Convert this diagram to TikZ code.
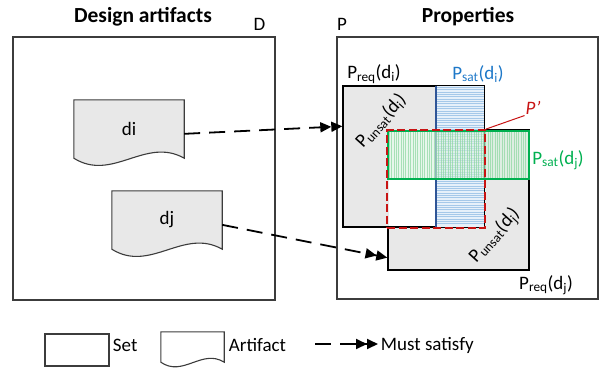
\documentclass[tikz,border=0pt]{standalone}
\usepackage{fontspec}
\setmainfont{Carlito}
\usetikzlibrary{arrows.meta,calc}

\definecolor{setgray}{RGB}{232,232,232}
\definecolor{framegray}{RGB}{60,60,60}
\definecolor{satblue}{RGB}{30,120,200}
\definecolor{bandblue}{RGB}{230,240,250}
\definecolor{bandblueline}{RGB}{165,200,233}
\definecolor{bandnavy}{RGB}{47,85,151}
\definecolor{satgreen}{RGB}{0,176,80}
\definecolor{bandgreen}{RGB}{215,243,222}
\definecolor{bandgreenline}{RGB}{140,215,160}
\definecolor{pred}{RGB}{200,20,20}

\tikzset{
  outerset/.style={draw=framegray, line width=1.1pt, rectangle, inner sep=0pt},
  reqset/.style={draw=black, line width=1.4pt, fill=setgray, rectangle, inner sep=0pt},
  artifact/.style={rectangle, inner sep=0pt, minimum width=110pt, minimum height=58pt},
  artline/.style={draw=framegray, line width=1.1pt},
  satisfy/.style={line width=1.8pt, dash pattern=on 16pt off 9pt,
    -{Triangle[length=11pt,width=10pt]Triangle[length=11pt,width=10pt]}},
  pprime/.style={draw=pred, line width=1.8pt, dash pattern=on 8pt off 3.5pt, rectangle, inner sep=0pt},
  lbl/.style={inner sep=0.75pt, font=\fontsize{19}{23}\selectfont},
  title/.style={inner sep=0.75pt, font=\fontsize{21.5}{25}\selectfont\bfseries},
}

% artifact outline below a named node: #1 node, #2 wave height, #3 fill
\newcommand{\drawartifact}[3]{%
  \draw[artline, fill=#3] (#1.south west) -- (#1.north west) -- (#1.north east) -- (#1.south east)
    .. controls ($(#1.south east)!0.35!(#1.south west)+(0,-#2)$)
    and ($(#1.south east)!0.65!(#1.south west)+(0,1.1*#2)$) .. (#1.south west) -- cycle;}

\begin{document}
\begin{tikzpicture}[x=1pt,y=1pt,yscale=-1,xscale=1]
\useasboundingbox (0,0) rectangle (601,367);

% Outer sets
\node[outerset, minimum width=262pt, minimum height=263pt] (D) at (144,168.5) {};
\node[outerset, minimum width=261pt, minimum height=262pt] (P) at (467.5,168) {};

% Text Node
\node[title] (dtitle) at (143,17) {Design artifacts};
\node[title] (ptitle) at (468,17) {Properties};
\node[lbl] (dname) at (259.5,24) {D};
\node[lbl] (pname) at (342,24) {P};

% Artifacts
\node[artifact] (di) at (129,129) {};
\drawartifact{di}{22}{setgray}
\node[lbl] at (di) {di};
\node[artifact] (dj) at (167,220) {};
\drawartifact{dj}{22}{setgray}
\node[lbl] at (dj) {dj};

% Required property sets
\node[reqset, minimum width=141pt, minimum height=140pt] (preqj) at (458.5,200) {};
\node[reqset, minimum width=141pt, minimum height=141pt] (preqi) at (413.5,156.5) {};
\fill[white] (388.7,130.7) rectangle (483.3,226.3);

% Psat(di) band
\fill[bandblue] (436,86) rectangle (484,227);
\foreach \yy in {87.4,89.75,...,226} \draw[bandblueline, line width=0.8pt] (436,\yy) -- (484,\yy);
\draw[bandnavy, line width=1.3pt] (436,86) -- (436,227);
\draw[black, line width=1.4pt] (preqi.north west) rectangle (preqi.south east);

% Psat(dj) band
\fill[bandgreen, opacity=0.6] (388,131) rectangle (529,179);
\foreach \xx in {389.4,391.75,...,528} \draw[bandgreenline, line width=0.8pt, opacity=0.7] (\xx,131) -- (\xx,179);
\draw[satgreen, line width=1.3pt] (388,131) rectangle (529,179);

% P'
\node[pprime, minimum width=98pt, minimum height=98pt] (pp) at (436,179) {};

% Set labels
\node[lbl] (lreqi) at (374,74) {P\textsubscript{req}(d\textsubscript{i})};
\node[lbl, text=satblue] (lsati) at (478,74) {P\textsubscript{sat}(d\textsubscript{i})};
\node[lbl, text=satgreen] (lsatj) at (558,160) {P\textsubscript{sat}(d\textsubscript{j})};
\node[lbl] (lreqj) at (546,285) {P\textsubscript{req}(d\textsubscript{j})};
\node[lbl, rotate=48] (lunsati) at (381,121) {P\textsubscript{unsat}(d\textsubscript{i})};
\node[lbl, rotate=48] (lunsatj) at (495,236) {P\textsubscript{unsat}(d\textsubscript{j})};
\node[lbl, text=pred, font=\fontsize{19}{23}\selectfont\itshape] (lpp) at (533,108) {P’};
\draw[pred, line width=1pt] (lpp.south west) -- (pp.north east);

% Must satisfy
\draw[satisfy] (di.-5) -- (preqi.157);
\draw[satisfy] (dj.-5) -- (preqj.219);

% Legend
\node[draw=framegray, line width=1.1pt, minimum width=64pt, minimum height=32pt, inner sep=0pt] (legset) at (77,350) {};
\node[lbl, anchor=west] (legsettext) at (112,345) {Set};
\node[artifact, minimum width=63pt, minimum height=30pt] (legart) at (192.5,347) {};
\drawartifact{legart}{14}{white}
\node[lbl, anchor=west] (legarttext) at (228,345) {Artifact};
\coordinate (legfrom) at (315,344);
\coordinate (legto) at (378,344);
\draw[satisfy] (legfrom) -- (legto);
\node[lbl, anchor=west] (legsattext) at (380,345) {Must satisfy};

\end{tikzpicture}
\end{document}
